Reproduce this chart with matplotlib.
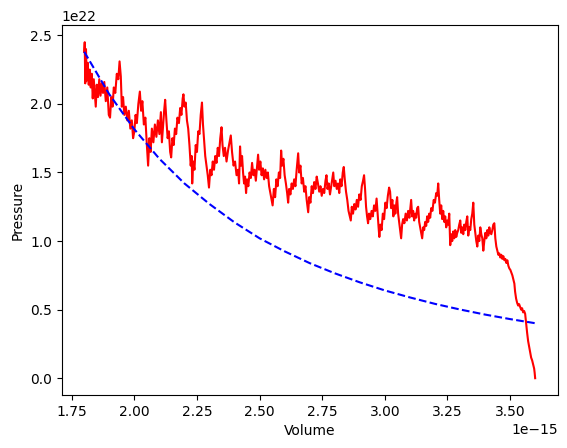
import matplotlib
matplotlib.use("Agg")
import matplotlib.pyplot as plt
import numpy as np

# измеренное давление (объём в 1e-15, давление в 1e22)
volume = [
    1.800, 1.802, 1.804, 1.807, 1.810, 1.814, 1.818, 1.822, 1.826, 1.830,
    1.834, 1.838, 1.842, 1.846, 1.850, 1.855, 1.860, 1.865, 1.870, 1.875,
    1.880, 1.886, 1.892, 1.898, 1.903, 1.908, 1.913, 1.918, 1.924, 1.930,
    1.936, 1.941, 1.946, 1.950, 1.955, 1.960, 1.966, 1.972, 1.978, 1.984,
    1.990, 1.995, 2.000, 2.005, 2.010, 2.016, 2.022, 2.027, 2.032, 2.038,
    2.044, 2.050, 2.055, 2.060, 2.065, 2.070, 2.076, 2.082, 2.088, 2.094,
    2.100, 2.106, 2.110, 2.115, 2.119, 2.123, 2.128, 2.133, 2.138, 2.143,
    2.147, 2.152, 2.157, 2.162, 2.167, 2.172, 2.178, 2.183, 2.188, 2.193,
    2.196, 2.200, 2.205, 2.210, 2.215, 2.220, 2.225, 2.229, 2.231, 2.235,
    2.240, 2.245, 2.250, 2.255, 2.260, 2.265, 2.270, 2.274, 2.278, 2.283,
    2.288, 2.293, 2.298, 2.303, 2.308, 2.313, 2.318, 2.323, 2.328, 2.333,
    2.338, 2.343, 2.348, 2.352, 2.357, 2.362, 2.368, 2.374, 2.380, 2.385,
    2.390, 2.396, 2.402, 2.408, 2.414, 2.418, 2.422, 2.426, 2.430, 2.434,
    2.438, 2.442, 2.446, 2.450, 2.455, 2.460, 2.465, 2.470, 2.475, 2.480,
    2.485, 2.490, 2.494, 2.498, 2.503, 2.508, 2.513, 2.518, 2.523, 2.528,
    2.533, 2.538, 2.543, 2.548, 2.552, 2.557, 2.562, 2.567, 2.572, 2.577,
    2.582, 2.586, 2.590, 2.595, 2.600, 2.605, 2.610, 2.614, 2.618, 2.623,
    2.628, 2.633, 2.638, 2.643, 2.648, 2.654, 2.658, 2.663, 2.668, 2.673,
    2.678, 2.683, 2.688, 2.694, 2.698, 2.703, 2.708, 2.713, 2.718, 2.723,
    2.728, 2.733, 2.738, 2.743, 2.748, 2.753, 2.758, 2.763, 2.767, 2.771,
    2.776, 2.781, 2.786, 2.790, 2.794, 2.798, 2.803, 2.808, 2.813, 2.818,
    2.822, 2.827, 2.832, 2.836, 2.840, 2.845, 2.850, 2.855, 2.860, 2.864,
    2.868, 2.873, 2.878, 2.883, 2.888, 2.893, 2.898, 2.903, 2.908, 2.913,
    2.917, 2.921, 2.925, 2.929, 2.933, 2.937, 2.942, 2.947, 2.952, 2.957,
    2.962, 2.967, 2.971, 2.975, 2.978, 2.982, 2.987, 2.992, 2.997, 3.002,
    3.007, 3.012, 3.017, 3.021, 3.025, 3.030, 3.034, 3.038, 3.042, 3.046,
    3.049, 3.053, 3.057, 3.061, 3.065, 3.069, 3.073, 3.078, 3.083, 3.088,
    3.093, 3.098, 3.102, 3.105, 3.109, 3.113, 3.117, 3.121, 3.125, 3.129,
    3.133, 3.137, 3.141, 3.145, 3.149, 3.153, 3.157, 3.161, 3.165, 3.169,
    3.173, 3.177, 3.181, 3.185, 3.190, 3.195, 3.200, 3.205, 3.209, 3.213,
    3.217, 3.221, 3.225, 3.229, 3.233, 3.237, 3.241, 3.245, 3.249, 3.253,
    3.257, 3.261, 3.265, 3.269, 3.273, 3.277, 3.281, 3.285, 3.289, 3.293,
    3.297, 3.301, 3.305, 3.309, 3.313, 3.317, 3.321, 3.325, 3.329, 3.333,
    3.337, 3.341, 3.345, 3.349, 3.353, 3.357, 3.361, 3.365, 3.369, 3.373,
    3.377, 3.381, 3.385, 3.389, 3.393, 3.397, 3.401, 3.405, 3.409, 3.413,
    3.417, 3.421, 3.425, 3.429, 3.433, 3.437, 3.441, 3.445, 3.449, 3.453,
    3.457, 3.461, 3.465, 3.469, 3.473, 3.477, 3.481, 3.485, 3.489, 3.493,
    3.497, 3.501, 3.505, 3.509, 3.513, 3.517, 3.520, 3.524, 3.528, 3.532,
    3.536, 3.540, 3.544, 3.548, 3.552, 3.556, 3.560, 3.564, 3.568, 3.572,
    3.576, 3.580, 3.584, 3.588, 3.592, 3.596, 3.598, 3.600,
]
pressure = [
    2.38, 2.45, 2.15, 2.40, 2.17, 2.30, 2.14, 2.25, 2.12, 2.22,
    2.04, 2.18, 2.08, 1.98, 2.14, 2.05, 2.18, 2.06, 2.15, 2.08,
    2.16, 2.02, 2.12, 1.92, 1.90, 2.05, 1.98, 2.12, 2.08, 2.22,
    2.18, 2.31, 2.20, 1.98, 2.05, 1.92, 1.98, 1.88, 1.95, 1.82,
    1.88, 1.75, 1.80, 1.92, 1.86, 2.00, 2.09, 1.95, 2.02, 1.85,
    1.90, 1.70, 1.55, 1.75, 1.65, 1.82, 1.72, 1.85, 1.76, 1.88,
    1.78, 1.94, 1.72, 1.85, 1.95, 2.03, 1.88, 1.75, 1.80, 1.65,
    1.61, 1.75, 1.70, 1.82, 1.78, 1.90, 1.86, 1.97, 1.92, 2.04,
    2.07, 1.98, 2.01, 1.88, 1.82, 1.70, 1.55, 1.62, 1.42, 1.58,
    1.52, 1.70, 1.65, 1.80, 1.78, 1.92, 2.01, 1.85, 1.75, 1.62,
    1.55, 1.48, 1.39, 1.52, 1.48, 1.58, 1.52, 1.62, 1.57, 1.68,
    1.62, 1.75, 1.83, 1.70, 1.62, 1.68, 1.58, 1.66, 1.72, 1.77,
    1.65, 1.55, 1.58, 1.48, 1.52, 1.42, 1.69, 1.55, 1.62, 1.50,
    1.42, 1.47, 1.35, 1.45, 1.40, 1.50, 1.46, 1.57, 1.48, 1.52,
    1.44, 1.55, 1.63, 1.52, 1.58, 1.48, 1.53, 1.45, 1.52, 1.46,
    1.50, 1.40, 1.35, 1.30, 1.26, 1.38, 1.32, 1.45, 1.40, 1.50,
    1.46, 1.66, 1.55, 1.60, 1.48, 1.42, 1.35, 1.28, 1.38, 1.34,
    1.42, 1.38, 1.45, 1.40, 1.52, 1.64, 1.50, 1.55, 1.42, 1.46,
    1.36, 1.40, 1.30, 1.21, 1.32, 1.28, 1.40, 1.35, 1.43, 1.38,
    1.47, 1.42, 1.36, 1.40, 1.33, 1.38, 1.35, 1.44, 1.48, 1.38,
    1.42, 1.34, 1.40, 1.45, 1.50, 1.40, 1.44, 1.38, 1.42, 1.35,
    1.45, 1.40, 1.50, 1.54, 1.45, 1.36, 1.30, 1.22, 1.18, 1.15,
    1.25, 1.20, 1.27, 1.23, 1.30, 1.25, 1.34, 1.30, 1.40, 1.44,
    1.48, 1.38, 1.25, 1.18, 1.13, 1.20, 1.16, 1.22, 1.18, 1.26,
    1.22, 1.31, 1.20, 1.10, 1.03, 1.12, 1.08, 1.20, 1.16, 1.28,
    1.24, 1.33, 1.39, 1.36, 1.24, 1.30, 1.18, 1.26, 1.20, 1.28,
    1.32, 1.20, 1.14, 1.08, 1.02, 1.12, 1.16, 1.13, 1.20, 1.15,
    1.22, 1.17, 1.24, 1.30, 1.18, 1.22, 1.15, 1.20, 1.17, 1.24,
    1.25, 1.14, 1.10, 1.06, 1.02, 1.10, 1.08, 1.14, 1.11, 1.18,
    1.14, 1.20, 1.17, 1.24, 1.22, 1.30, 1.28, 1.35, 1.33, 1.42,
    1.30, 1.20, 1.26, 1.16, 1.22, 1.14, 1.18, 1.10, 1.15, 1.12,
    1.20, 0.97, 1.05, 1.00, 1.07, 1.02, 1.08, 1.03, 1.06, 1.08,
    1.12, 1.15, 1.06, 1.10, 1.05, 1.12, 1.08, 1.14, 1.18, 1.04,
    1.10, 1.08, 1.16, 1.20, 1.28, 1.12, 1.06, 1.00, 0.96, 1.04,
    1.00, 1.10, 1.05, 1.02, 0.93, 1.00, 1.06, 1.02, 1.08, 1.04,
    1.10, 1.06, 1.05, 1.08, 1.12, 1.13, 1.02, 0.96, 0.93, 0.90,
    0.91, 0.88, 0.90, 0.87, 0.89, 0.86, 0.87, 0.84, 0.86, 0.82,
    0.80, 0.79, 0.77, 0.75, 0.72, 0.69, 0.63, 0.58, 0.55, 0.53,
    0.54, 0.52, 0.50, 0.51, 0.48, 0.49, 0.47, 0.40, 0.33, 0.27,
    0.23, 0.19, 0.15, 0.13, 0.10, 0.07, 0.04, 0.00,
]

# теоретическая кривая
volumeTheory = [1.8, 1.9, 2.0, 2.1, 2.2, 2.3, 2.4, 2.5, 2.6, 2.7,
                2.8, 2.9, 3.0, 3.1, 3.2, 3.3, 3.4, 3.5, 3.6]
pressureTheory = [2.38, 2.07, 1.815, 1.60, 1.42, 1.27, 1.136, 1.02, 0.925, 0.839,
                  0.765, 0.699, 0.640, 0.589, 0.542, 0.501, 0.464, 0.431, 0.401]

V = np.array(volume) * 1e-15
P = np.array(pressure) * 1e22
Vt = np.array(volumeTheory) * 1e-15
Pt = np.array(pressureTheory) * 1e22

fig = plt.figure(figsize=(5.67, 4.48), dpi=100)
ax = fig.add_axes([0.1088, 0.1183, 0.8748, 0.825])
ax.plot(V, P, 'r')
ax.plot(Vt, Pt, 'b--')
ax.set_xlabel("Volume")
ax.set_ylabel("Pressure")

fig.savefig("out.png", dpi=100)
